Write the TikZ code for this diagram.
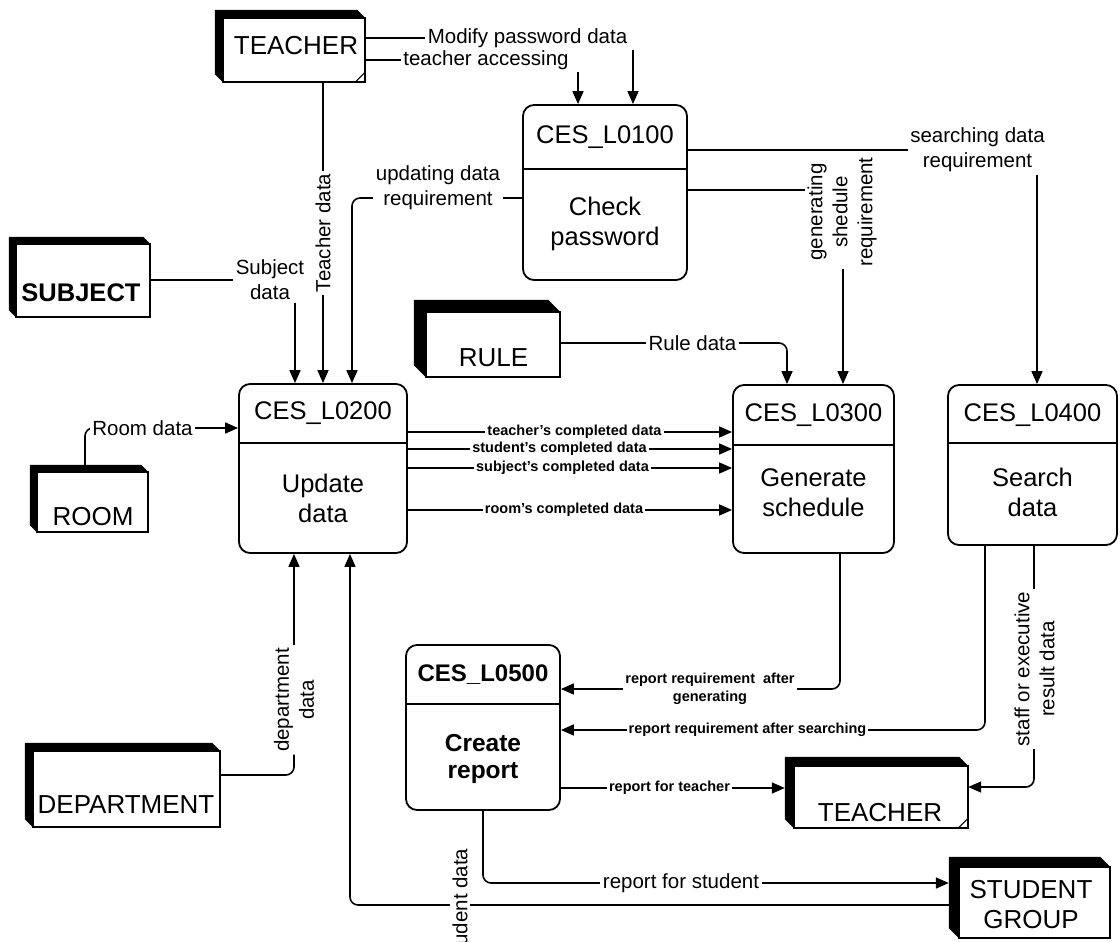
\documentclass[tikz,border=0pt]{standalone}
\usepackage{fontspec}
\setmainfont{Liberation Sans}
\usetikzlibrary{arrows.meta,calc}
\pgfdeclarelayer{bg}
\pgfdeclarelayer{flows}
\pgfsetlayers{bg,flows,main}

% dark bevelled band on the top and left of an external entity, plus its white face
\newcommand\entityband[2]{%
  \fill (#1.north west) -- ([xshift=-#2pt]#1.north east) -- ([yshift=-#2pt]#1.north east)
    -- ([xshift=#2pt,yshift=-#2pt]#1.north west) -- ([xshift=#2pt]#1.south west)
    -- ([yshift=#2pt]#1.south west) -- cycle;
  \draw[line width=1.5pt] ([xshift=#2pt,yshift=-#2pt]#1.north west) rectangle (#1.south east);
}
% small corner fold drawn on the duplicated entity
\newcommand\entityfold[1]{%
  \draw[line width=1pt] ([xshift=-10pt]#1.south east) -- ([yshift=10pt]#1.south east);
}

\begin{document}
\begin{tikzpicture}[x=1pt,y=-1pt,
  entity/.style={rectangle, draw=none, inner sep=0pt},
  ename/.style={font=\fontsize{26}{30}\selectfont, inner sep=0pt, align=center},
  proc/.style={rectangle, rounded corners=11pt, draw, line width=1.8pt, fill=white, inner sep=0pt},
  ptext/.style={font=\fontsize{25.5}{30}\selectfont, align=center, inner sep=0pt},
  pbold/.style={font=\bfseries\fontsize{24.5}{27}\selectfont, align=center, inner sep=0pt},
  lbl/.style={fill=white, inner sep=2.5pt, font=\fontsize{20.5}{25}\selectfont, align=center},
  slbl/.style={fill=white, inner sep=2pt, font=\bfseries\fontsize{14.5}{18}\selectfont, align=center},
  conn/.style={line width=1.6pt},
  flow/.style={conn, -{Triangle[length=13pt,width=11pt]}},
  divider/.style={line width=1.6pt}
]
\useasboundingbox (0,0) rectangle (1120,942);
\begin{pgfonlayer}{bg}
  \fill[white] (0,0) rectangle (1120,942);
\end{pgfonlayer}

% ---------- external entities ----------
\node[entity, minimum width=150, minimum height=72] (teacher) at (290,46) {};
\entityband{teacher}{8}\entityfold{teacher}
\node[ename] (teacherT) at (296,46) {TEACHER};

\node[entity, minimum width=141, minimum height=80] (subject) at (79.5,277) {};
\entityband{subject}{7}
\node[ename, font=\bfseries\fontsize{25.5}{30}\selectfont] (subjectT) at (81,293) {SUBJECT};

\node[entity, minimum width=146, minimum height=77] (rule) at (487,338.5) {};
\entityband{rule}{12}
\node[ename] (ruleT) at (493.5,358) {RULE};

\node[entity, minimum width=118, minimum height=67] (room) at (89,498.5) {};
\entityband{room}{7}
\node[ename] (roomT) at (93,517) {ROOM};

\node[entity, minimum width=195, minimum height=84] (department) at (122.5,785) {};
\entityband{department}{8}
\node[ename] (departmentT) at (126,805) {DEPARTMENT};

\node[entity, minimum width=183, minimum height=71] (teacher2) at (876.5,792.5) {};
\entityband{teacher2}{9}\entityfold{teacher2}
\node[ename] (teacher2T) at (880,813) {TEACHER};

\node[entity, minimum width=161, minimum height=81] (student) at (1029.5,897.5) {};
\entityband{student}{10}
\node[ename] (studentT) at (1031,905) {STUDENT\\GROUP};

% ---------- processes ----------
\node[proc, minimum width=164, minimum height=175] (p1) at (605,192.5) {};
\draw[divider] ([yshift=23.5pt]p1.west) -- ([yshift=23.5pt]p1.east);
\node[ptext] (p1id) at (605,137) {CES\_L0100};
\node[ptext] (p1nm) at (605,224) {Check\\password};

\node[proc, minimum width=168, minimum height=169] (p2) at (323,468.5) {};
\draw[divider] ([yshift=25.5pt]p2.west) -- ([yshift=25.5pt]p2.east);
\node[ptext] (p2id) at (323,413) {CES\_L0200};
\node[ptext] (p2nm) at (323,498) {Update\\data};

\node[proc, minimum width=161, minimum height=168] (p3) at (813.5,469) {};
\draw[divider] ([yshift=24pt]p3.west) -- ([yshift=24pt]p3.east);
\node[ptext] (p3id) at (813.5,415) {CES\_L0300};
\node[ptext] (p3nm) at (813.5,492.5) {Generate\\schedule};

\node[proc, minimum width=169, minimum height=160] (p4) at (1032.5,465) {};
\draw[divider] ([yshift=22pt]p4.west) -- ([yshift=22pt]p4.east);
\node[ptext] (p4id) at (1032.5,415) {CES\_L0400};
\node[ptext] (p4nm) at (1032.5,492.5) {Search\\data};

\node[proc, minimum width=154, minimum height=165] (p5) at (483,727.5) {};
\draw[divider] ([yshift=23.5pt]p5.west) -- ([yshift=23.5pt]p5.east);
\node[pbold, font=\bfseries\fontsize{24}{27}\selectfont] (p5id) at (483,675) {CES\_L0500};
\node[pbold] (p5nm) at (483,758.5) {Create\\report};

% ---------- flow labels ----------
\node[lbl] (modlbl) at (527.5,38) {Modify password data};
\node[lbl] (acclbl) at (486,60) {teacher accessing};
\node[lbl, rotate=90] (tdlbl) at (323,233) {Teacher data};
\node[lbl] (subjlbl) at (270,280) {Subject\\data};
\node[lbl] (updlbl) at (438,188) {updating data\\requirement};
\node[lbl, rotate=90] (genlbl) at (842,212) {generating\\shedule\\requirement};
\node[lbl] (srchlbl) at (977.5,150) {searching data\\requirement};
\node[lbl] (rulelbl) at (692.5,343) {Rule data};
\node[lbl] (roomlbl) at (142.5,428) {Room data};
\node[slbl] (tcl) at (574.5,432) {teacher's completed data};
\node[slbl] (scl) at (559.5,449) {student's completed data};
\node[slbl] (sbl) at (562.5,468) {subject's completed data};
\node[slbl] (rcl) at (564,510) {room's completed data};
\node[slbl] (ragl) at (710,689) {report requirement\ \ after\\generating};
\node[slbl] (rasl) at (747.5,730) {report requirement after searching};
\node[slbl] (rftl) at (669.5,788) {report for teacher};
\node[lbl, rotate=90] (stfl) at (1034.5,669) {staff or executive\\result data};
\node[lbl, rotate=90] (deplbl) at (294,700) {department\\data};
\node[lbl] (rfsl) at (681,883) {report for student};
\node[lbl, rotate=90] (stdl) at (460,905) {student data};

% ---------- data flows ----------
\begin{pgfonlayer}{flows}
  % TEACHER to Check password
  \coordinate (a1m) at ([xshift=28pt]p1.north);
  \coordinate (a1a) at ([xshift=-27pt]p1.north);
  \draw[conn] (teacher.east |- modlbl) -- (modlbl.west);
  \draw[flow] (a1m |- modlbl.south) -- (a1m);
  \draw[conn] (teacher.east |- acclbl) -- (acclbl.west);
  \draw[flow] (a1a |- acclbl.south) -- (a1a);
  % inputs of Update data
  \draw[flow] (teacher.south -| tdlbl) -- (p2.north -| tdlbl);
  \coordinate (a2s) at ([xshift=-28pt]p2.north);
  \draw[conn] (subject.east |- subjlbl) -- (subjlbl.west);
  \draw[flow] (a2s |- subjlbl.south) -- (a2s);
  \coordinate (u1) at ([yshift=-5.5pt]p1.west);
  \coordinate (a2u) at ([xshift=29pt]p2.north);
  \draw[flow, rounded corners=8pt] (u1) -| (a2u);
  \coordinate (r2) at ([yshift=40.5pt]p2.west);
  \draw[flow, rounded corners=8pt] ([xshift=-4pt]room.north) |- (r2);
  \draw[conn, rounded corners=8pt] ([yshift=10pt]department.east) -| (deplbl.west);
  \draw[flow] (deplbl.east) -- (deplbl.east |- p2.south);
  \coordinate (a2d) at ([xshift=27pt]p2.south);
  \draw[flow, rounded corners=8pt] ([yshift=-7.5pt]student.west) -| (a2d);
  % inputs of Generate schedule
  \coordinate (a3r) at ([xshift=-26.5pt]p3.north);
  \draw[conn] (rule.east |- rulelbl) -- (rulelbl.west);
  \draw[flow, rounded corners=8pt] (rulelbl.east) -| (a3r);
  \coordinate (g1) at ([yshift=2.5pt]p1.east);
  \coordinate (a3g) at ([xshift=29.5pt]p3.north);
  \draw[conn] (g1) -- (g1 -| genlbl.north);
  \draw[flow] (a3g |- genlbl.west) -- (a3g);
  \draw[flow] (p2.east |- tcl) -- (p3.west |- tcl);
  \draw[flow] (p2.east |- scl) -- (p3.west |- scl);
  \draw[flow] (p2.east |- sbl) -- (p3.west |- sbl);
  \draw[flow] (p2.east |- rcl) -- (p3.west |- rcl);
  % input of Search data
  \coordinate (a4s) at ([xshift=4.5pt]p4.north);
  \draw[conn] (p1.east |- srchlbl) -- (srchlbl.west);
  \draw[flow] (a4s |- srchlbl.south) -- (a4s);
  % report requests
  \coordinate (b3) at ([xshift=26.5pt]p3.south);
  \draw[flow, rounded corners=8pt] (b3) |- (p5.east |- ragl);
  \coordinate (b4r) at ([xshift=-47.5pt]p4.south);
  \draw[flow, rounded corners=8pt] (b4r) |- (p5.east |- rasl);
  % results
  \coordinate (b4s) at ([xshift=1.5pt]p4.south);
  \draw[conn] (b4s) -- (b4s |- stfl.east);
  \draw[flow, rounded corners=8pt] (b4s |- stfl.west) |- ([yshift=5.5pt]teacher2.east);
  \draw[flow] (p5.east |- rftl) -- (teacher2.west |- rftl);
  \draw[flow, rounded corners=8pt] (p5.south) |- (student.west |- rfsl);
\end{pgfonlayer}
\end{tikzpicture}
\end{document}
